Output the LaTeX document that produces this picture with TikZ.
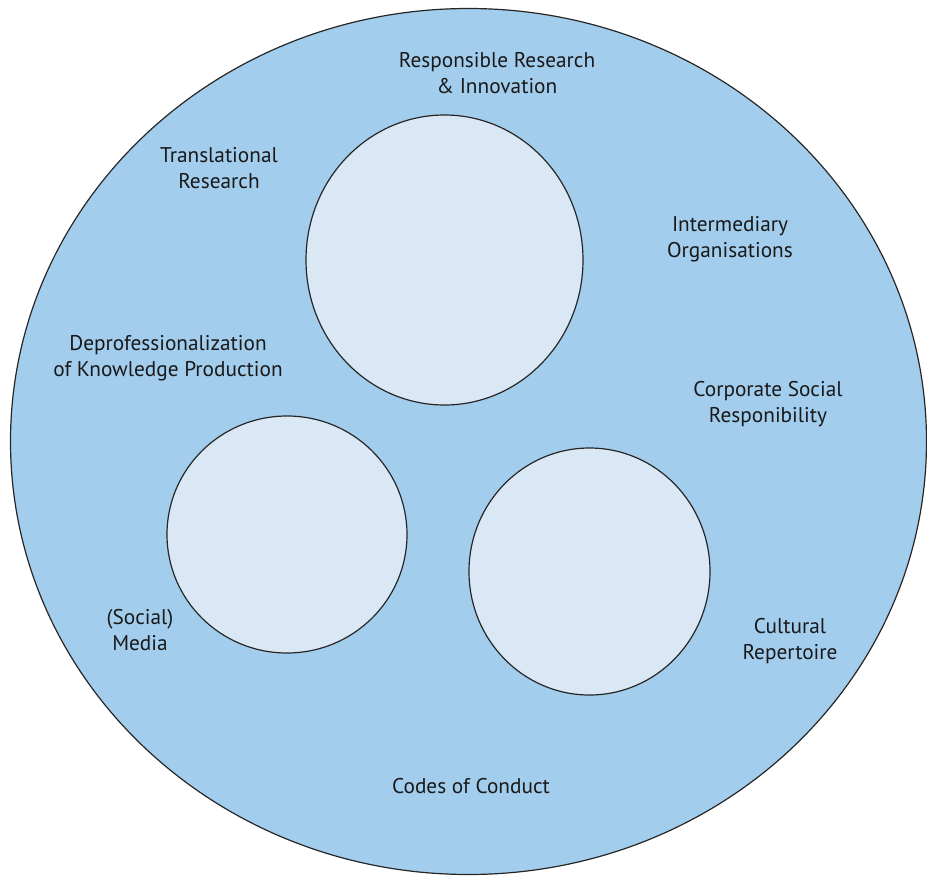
\documentclass[tikz,border=0pt]{standalone}
\usepackage{fontspec}
\setmainfont{PT Sans}
\definecolor{outerblue}{HTML}{A3CDED}
\definecolor{innerblue}{HTML}{DAE8F6}
\begin{document}
\begin{tikzpicture}[x=1pt,y=-1pt,
  lbl/.style={align=center,font=\fontsize{21.3}{26}\selectfont,text=black!90,inner sep=0pt},
  inner/.style={draw=black!85,line width=1.2pt,fill=innerblue}]
\useasboundingbox (0,0) rectangle (927,876);
\path[draw=black!85,line width=1.2pt,fill=outerblue] (468.5,441.5) ellipse [x radius=458,y radius=433];
\path[inner] (444.5,260) ellipse [x radius=138.5,y radius=145];
\path[inner] (287,534.5) ellipse [x radius=120,y radius=118.5];
\path[inner] (589.5,571.5) ellipse [x radius=120.5,y radius=123.5];
\node[lbl] (rri) at (497,73) {Responsible Research\\\& Innovation};
\node[lbl] (tr) at (219,168) {Translational\\Research};
\node[lbl] (io) at (730,239) {Intermediary\\Organisations};
\node[lbl] (dkp) at (168,358) {Deprofessionalization\\of Knowledge Production};
\node[lbl] (csr) at (768,404) {Corporate Social\\Responibility};
\node[lbl] (sm) at (140,630) {(Social)\\Media};
\node[lbl] (cr) at (790,641) {Cultural\\Repertoire};
\node[lbl] (cc) at (471,786) {Codes of Conduct};
\end{tikzpicture}
\end{document}
